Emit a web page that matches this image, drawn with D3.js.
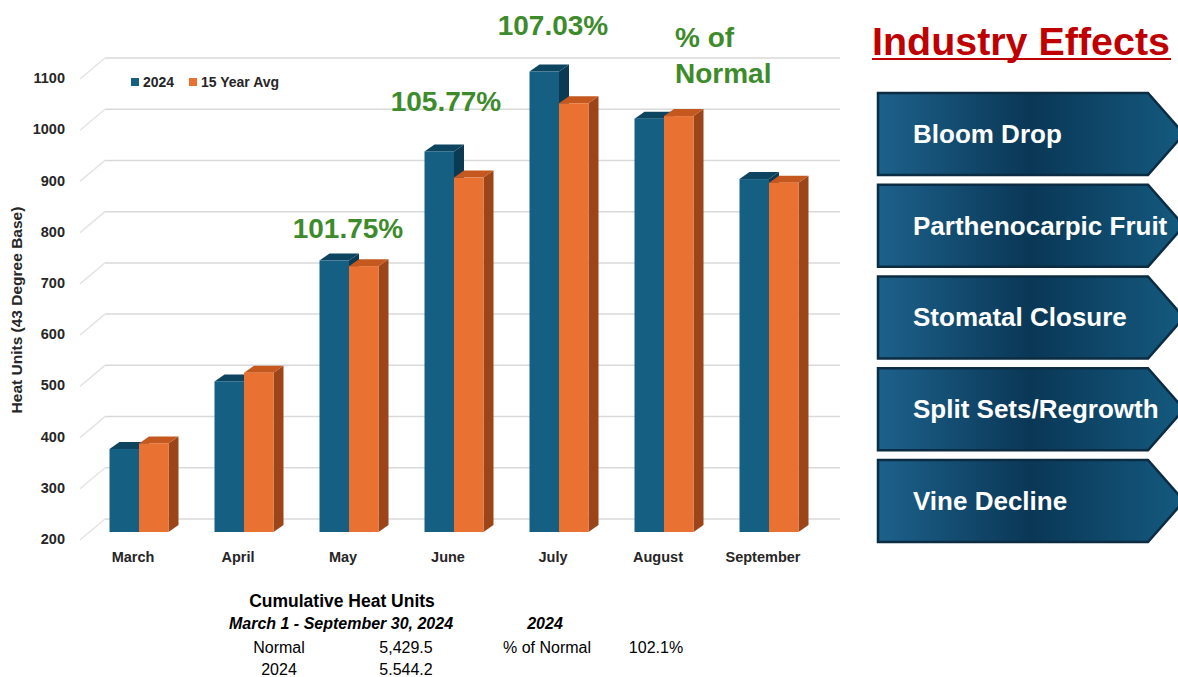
<!DOCTYPE html>
<html>
<head>
<meta charset="utf-8">
<script src="https://cdn.jsdelivr.net/npm/d3@7"></script>
<style>
  html, body { margin: 0; padding: 0; background: #fff; }
  svg { display: block; font-family: "Liberation Sans", Arial, Helvetica, sans-serif; }
</style>
</head>
<body>
<div id="chart"></div>
<script>
const width = 1178;
const height = 677;

// values
const months = ["March", "April", "May", "June", "July", "August", "September"];
const series = ["2024", "15 Year Avg"];
const heat2024 = [362, 494, 730, 943, 1099, 1007, 889];
const heatAvg = [373, 511, 719, 892, 1037, 1012, 882];
const yTicks = [200, 300, 400, 500, 600, 700, 800, 900, 1000, 1100];

// % of normal call-outs: month, text, nudge above the taller bar
const pctLabels = [
  { month: "May", text: "101.75%", dx: -1, dy: -23 },
  { month: "June", text: "105.77%", dx: -8, dy: -40 },
  { month: "July", text: "107.03%", dx: -6, dy: -37 }
];

const effects = ["Bloom Drop", "Parthenocarpic Fruit", "Stomatal Closure", "Split Sets/Regrowth", "Vine Decline"];

const tableRows = [
  ["Normal", "5,429.5", "% of Normal", "102.1%"],
  ["2024", "5.544.2", "", ""]
];

const colors = {
  "2024": { front: "#156082", top: "#0d4561", side: "#0b3a52" },
  "15 Year Avg": { front: "#e97132", top: "#c4581f", side: "#9c4519" }
};
const green = "#3d8b2b";

const svg = d3.select("#chart").append("svg")
  .attr("width", width)
  .attr("height", height)
  .attr("viewBox", [0, 0, width, height]);

svg.append("rect").attr("width", width).attr("height", height).attr("fill", "#fff");

// scales
const x = d3.scaleBand().domain(months).range([86.5, 821.5]);
const x1 = d3.scaleBand().domain(series).range([-29.5, 29.5]);
const y = d3.scaleLinear().domain([200, 1100]).range([532, 71]);

const depthX = 10, depthY = -7;   // 3d offset for bar tops / sides
const wallShift = -13;            // back wall gridline offset

// gridlines (back wall + left side wall)
const grid = svg.append("g");
grid.selectAll("line.back")
  .data(yTicks)
  .join("line")
  .attr("class", "back")
  .attr("x1", 105).attr("x2", 840)
  .attr("y1", d => y(d) + wallShift).attr("y2", d => y(d) + wallShift)
  .attr("stroke", "#d9d9d9").attr("stroke-width", 1.5);
grid.selectAll("line.side")
  .data(yTicks)
  .join("line")
  .attr("class", "side")
  .attr("x1", 80).attr("x2", 105)
  .attr("y1", d => y(d) + 8).attr("y2", d => y(d) + wallShift)
  .attr("stroke", "#e4e4e4").attr("stroke-width", 1.5);

// y axis
const yAxis = svg.append("g")
  .attr("transform", "translate(68,7)")
  .call(d3.axisLeft(y).tickValues(yTicks).tickSize(0).tickPadding(3).tickFormat(d3.format("d")));
yAxis.select(".domain").remove();
yAxis.selectAll("text")
  .attr("font-family", "Liberation Sans, Arial, sans-serif")
  .attr("font-size", 14.5).attr("font-weight", "bold").attr("fill", "#262626");

svg.append("text")
  .attr("transform", "translate(22,310) rotate(-90)")
  .attr("text-anchor", "middle")
  .attr("font-size", 15.5).attr("font-weight", "bold").attr("fill", "#262626")
  .text("Heat Units (43 Degree Base)");

// x axis
const xAxis = svg.append("g")
  .attr("transform", "translate(-6,549)")
  .call(d3.axisBottom(x).tickSize(0).tickPadding(3));
xAxis.select(".domain").remove();
xAxis.selectAll("text")
  .attr("font-family", "Liberation Sans, Arial, sans-serif")
  .attr("font-size", 14.5).attr("font-weight", "bold").attr("fill", "#262626");

// bars
const rows = months.map((m, i) => ({ month: m, values: [
  { key: "2024", value: heat2024[i] },
  { key: "15 Year Avg", value: heatAvg[i] }
] }));

const base = y(200);
const groups = svg.append("g").selectAll("g")
  .data(rows)
  .join("g")
  .attr("transform", d => `translate(${x(d.month) + x.bandwidth() / 2},0)`);

groups.each(function(d) {
  const g = d3.select(this);
  d.values.forEach(v => {
    const x0 = x1(v.key), w = x1.bandwidth(), yt = y(v.value);
    const c = colors[v.key];
    // side
    g.append("path")
      .attr("d", `M${x0 + w},${yt}L${x0 + w + depthX},${yt + depthY}L${x0 + w + depthX},${base + depthY}L${x0 + w},${base}Z`)
      .attr("fill", c.side);
    // top
    g.append("path")
      .attr("d", `M${x0},${yt}L${x0 + depthX},${yt + depthY}L${x0 + w + depthX},${yt + depthY}L${x0 + w},${yt}Z`)
      .attr("fill", c.top);
    // front
    g.append("rect")
      .attr("x", x0).attr("y", yt)
      .attr("width", w).attr("height", base - yt)
      .attr("fill", c.front);
  });
});

// legend
const legend = svg.append("g").attr("transform", "translate(131,82)");
const legendX = [0, 58];
series.forEach((s, i) => {
  legend.append("rect")
    .attr("x", legendX[i]).attr("y", -4).attr("width", 8).attr("height", 8)
    .attr("fill", colors[s].front);
  legend.append("text")
    .attr("x", legendX[i] + 12).attr("y", 5)
    .attr("font-size", 14).attr("font-weight", "bold").attr("fill", "#262626")
    .text(s);
});

// % of normal call-outs
svg.append("g").selectAll("text")
  .data(pctLabels)
  .join("text")
  .attr("x", d => x(d.month) + x.bandwidth() / 2 + d.dx)
  .attr("y", d => {
    const i = months.indexOf(d.month);
    return y(Math.max(heat2024[i], heatAvg[i])) + d.dy;
  })
  .attr("text-anchor", "middle")
  .attr("font-size", 28).attr("font-weight", "bold").attr("fill", green)
  .text(d => d.text);

const pctTitle = svg.append("text")
  .attr("x", x("August") + x.bandwidth() / 2 + 11)
  .attr("y", 47)
  .attr("font-size", 28).attr("font-weight", "bold").attr("fill", green);
pctTitle.append("tspan").text("% of");
pctTitle.append("tspan")
  .attr("x", x("August") + x.bandwidth() / 2 + 11).attr("dy", 36)
  .text("Normal");

// right panel: Industry Effects
svg.append("text")
  .attr("x", 872).attr("y", 55)
  .attr("font-size", 39).attr("font-weight", "bold").attr("fill", "#c00000")
  .attr("textLength", 298).attr("lengthAdjust", "spacingAndGlyphs")
  .text("Industry Effects");
svg.append("line")
  .attr("x1", 872).attr("x2", 1171).attr("y1", 59).attr("y2", 59)
  .attr("stroke", "#c00000").attr("stroke-width", 2);

const defs = svg.append("defs");
const grad = defs.append("linearGradient").attr("id", "arrowFill")
  .attr("x1", "0%").attr("x2", "100%").attr("y1", "0%").attr("y2", "0%");
grad.append("stop").attr("offset", "0%").attr("stop-color", "#1d618b");
grad.append("stop").attr("offset", "50%").attr("stop-color", "#0a3756");
grad.append("stop").attr("offset", "100%").attr("stop-color", "#145a7f");

const ey = d3.scaleBand().domain(effects).range([93, 542]).paddingInner(0.106);
const arrowL = 878, arrowR = 1148, arrowTip = 1184;

const arrows = svg.append("g").selectAll("g")
  .data(effects)
  .join("g")
  .attr("transform", d => `translate(0,${ey(d)})`);

arrows.append("path")
  .attr("d", () => {
    const h = ey.bandwidth();
    return `M${arrowL},0L${arrowR},0L${arrowTip},${h / 2}L${arrowR},${h}L${arrowL},${h}Z`;
  })
  .attr("fill", "url(#arrowFill)")
  .attr("stroke", "#0b2c42").attr("stroke-width", 2.5);

arrows.append("text")
  .attr("x", 913)
  .attr("y", ey.bandwidth() / 2 + 9)
  .attr("font-size", 26).attr("font-weight", "bold").attr("fill", "#fff")
  .text(d => d);

// bottom summary table
const table = svg.append("g").attr("fill", "#000").attr("text-anchor", "middle");
table.append("text")
  .attr("x", 342).attr("y", 607)
  .attr("font-size", 17.5).attr("font-weight", "bold")
  .text("Cumulative Heat Units");
table.append("text")
  .attr("x", 341).attr("y", 629)
  .attr("font-size", 16).attr("font-weight", "bold").attr("font-style", "italic")
  .text("March 1 - September 30, 2024");
table.append("text")
  .attr("x", 545).attr("y", 629)
  .attr("font-size", 16).attr("font-weight", "bold").attr("font-style", "italic")
  .text("2024");

const colX = [279, 406, 547, 656];
tableRows.forEach((r, i) => {
  r.forEach((cell, j) => {
    table.append("text")
      .attr("x", colX[j]).attr("y", 653 + i * 22)
      .attr("font-size", 16)
      .text(cell);
  });
});
</script>
</body>
</html>
